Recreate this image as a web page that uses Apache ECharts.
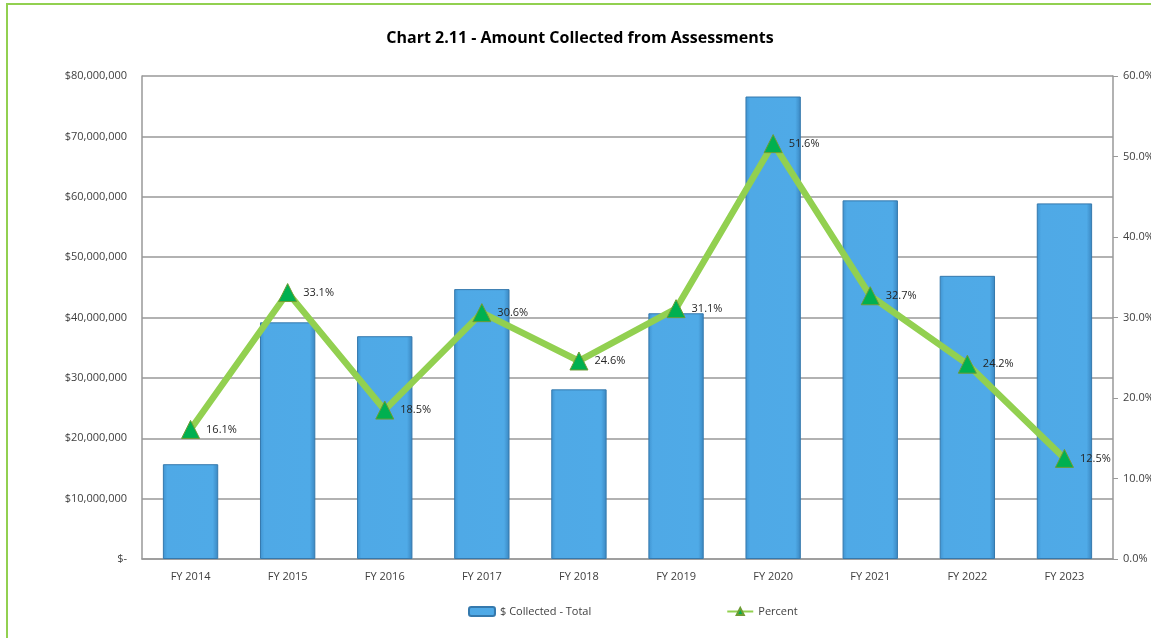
<!DOCTYPE html>
<html>
<head>
<meta charset="utf-8">
<script src="https://cdn.jsdelivr.net/npm/echarts@6/dist/echarts.min.js"></script>
<style>
html, body { margin: 0; padding: 0; background: #fff; }
#frame {
  position: absolute;
  left: 6px;
  top: 3px;
  width: 1160px;
  height: 660px;
  border: 2px solid #92D050;
  box-sizing: border-box;
}
#chart { position: absolute; left: 0; top: 0; width: 1151px; height: 638px; }
</style>
</head>
<body>
<div id="frame"></div>
<div id="chart"></div>
<script>
// 数据
const years = ['FY 2014', 'FY 2015', 'FY 2016', 'FY 2017', 'FY 2018', 'FY 2019', 'FY 2020', 'FY 2021', 'FY 2022', 'FY 2023']
const collected = [15700000, 39200000, 36900000, 44700000, 28100000, 40700000, 76600000, 59400000, 46900000, 58900000]
const percent = [16.1, 33.1, 18.5, 30.6, 24.6, 31.1, 51.6, 32.7, 24.2, 12.5]

const font = 'Open Sans'

function money(v) {
  if (v === 0) return '$-'
  return '$' + v.toString().replace(/\B(?=(\d{3})+(?!\d))/g, ',')
}

const chart = echarts.init(document.getElementById('chart'))
chart.setOption({
  animation: false,
  textStyle: { fontFamily: font },
  title: {
    text: 'Chart 2.11 - Amount Collected from Assessments',
    left: 575,
    textAlign: 'center',
    top: 25,
    textStyle: { fontSize: 16, fontWeight: 'bold', color: '#000', fontFamily: font }
  },
  legend: {
    bottom: 16,
    left: 463,
    itemGap: 135,
    itemWidth: 26,
    itemHeight: 9,
    textStyle: { fontSize: 11, color: '#404040', fontFamily: font },
    data: ['$ Collected - Total', 'Percent']
  },
  grid: { left: 142, right: 38, top: 76, bottom: 79, outerBoundsMode: 'none' },
  xAxis: {
    type: 'category',
    data: years,
    axisLine: { lineStyle: { color: '#999', width: 1.5 } },
    axisTick: { show: false },
    axisLabel: { fontSize: 11, color: '#404040', margin: 12 }
  },
  yAxis: [
    {
      type: 'value',
      min: 0,
      max: 80000000,
      interval: 10000000,
      axisLine: { show: true, lineStyle: { color: '#999', width: 1.5 } },
      axisTick: { show: false },
      splitLine: { lineStyle: { color: '#999', width: 1.5 } },
      axisLabel: { fontSize: 11, color: '#404040', margin: 15, formatter: money }
    },
    {
      type: 'value',
      min: 0,
      max: 60,
      interval: 10,
      position: 'right',
      axisLine: { show: true, lineStyle: { color: '#999', width: 1.5 } },
      axisTick: { show: true, length: 5, lineStyle: { color: '#999' } },
      splitLine: { show: false },
      axisLabel: { fontSize: 11, color: '#404040', margin: 10, formatter: v => v.toFixed(1) + '%' }
    }
  ],
  series: [
    {
      name: '$ Collected - Total',
      type: 'bar',
      data: collected,
      barWidth: '57%',
      itemStyle: {
        color: new echarts.graphic.LinearGradient(0, 0, 1, 0, [
          { offset: 0, color: '#3F93D0' },
          { offset: 0.08, color: '#4FA9E6' },
          { offset: 0.9, color: '#4FAAE7' },
          { offset: 1, color: '#3A86C0' }
        ]),
        borderColor: '#3579AD',
        borderWidth: 1
      }
    },
    {
      name: 'Percent',
      type: 'line',
      yAxisIndex: 1,
      data: percent,
      z: 5,
      symbol: 'triangle',
      symbolSize: 18,
      lineStyle: { color: '#92D050', width: 6.5 },
      itemStyle: {
        color: '#00B050',
        borderColor: '#6E9C34',
        borderWidth: 1
      },
      label: {
        show: true,
        position: 'right',
        distance: 6,
        fontSize: 11,
        color: '#262626',
        formatter: p => p.value.toFixed(1) + '%'
      }
    }
  ]
})
</script>
</body>
</html>
